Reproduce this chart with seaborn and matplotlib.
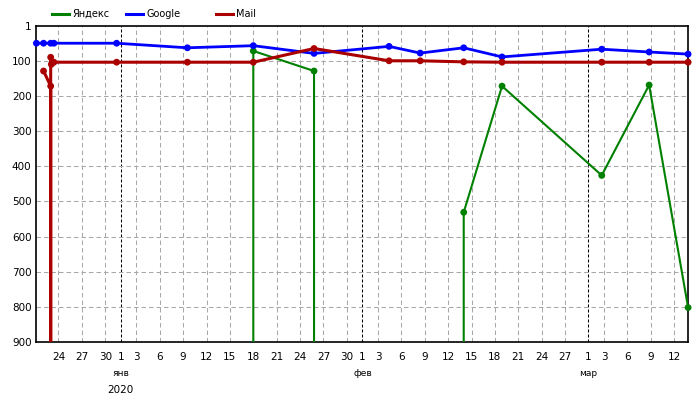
import matplotlib
matplotlib.use("Agg")
import matplotlib.pyplot as plt
import seaborn as sns
import pandas as pd

# ---------------- data ----------------
NOT_RANKED = 1000  # position outside the top-900 (drawn off the chart)

SERIES = ["Яндекс", "Google", "Mail"]
COLORS = ["#008000", "#0000ff", "#aa0000"]
WIDTHS = [1.5, 2.0, 2.2]

yandex_dates = ["2020-01-18 00:00", "2020-01-18 00:00", "2020-01-25 19:00", "2020-01-25 19:00",
                "2020-02-14 00:00", "2020-02-14 00:00", "2020-02-18 22:00", "2020-03-02 17:00",
                "2020-03-08 19:00", "2020-03-13 19:00"]
yandex_ranks = [NOT_RANKED, 72, 129, NOT_RANKED, NOT_RANKED, 531, 172, 426, 169, 802]

google_dates = ["2019-12-21 04:00", "2019-12-22 02:00", "2019-12-23 00:00", "2019-12-23 10:00",
                "2019-12-31 11:00", "2020-01-09 13:00", "2020-01-18 00:00", "2020-01-25 19:00",
                "2020-02-04 10:00", "2020-02-08 10:00", "2020-02-14 00:00", "2020-02-18 22:00",
                "2020-03-02 17:00", "2020-03-08 19:00", "2020-03-13 19:00"]
google_ranks = [50, 50, 50, 50, 50, 63, 57, 79, 59, 78, 63, 89, 67, 75, 81]

mail_dates = ["2019-12-22 02:00", "2019-12-23 00:00", "2019-12-23 00:00", "2019-12-23 00:00",
              "2019-12-23 02:00", "2019-12-23 10:00", "2019-12-31 11:00", "2020-01-09 13:00",
              "2020-01-18 00:00", "2020-01-25 19:00", "2020-02-04 10:00", "2020-02-08 10:00",
              "2020-02-14 00:00", "2020-02-18 22:00", "2020-03-02 17:00", "2020-03-08 19:00",
              "2020-03-13 19:00"]
mail_ranks = [129, 172, NOT_RANKED, 90, 110, 104, 104, 104, 104, 65, 100, 100, 103, 104, 104, 104, 104]

Y_TICKS = [1, 100, 200, 300, 400, 500, 600, 700, 800, 900]
TICK_DAYS = [1, 3, 6, 9, 12, 15, 18, 21, 24, 27, 30]
MONTH_LABELS = {"2020-01-01": "янв", "2020-02-01": "фев", "2020-03-01": "мар"}
YEAR_LABELS = {"2020-01-01": "2020"}
X_START, X_END = "2019-12-21 04:00", "2020-03-13 19:00"

# ---------------- frame ----------------
frames = []
for name, d, r in [("Яндекс", yandex_dates, yandex_ranks),
                   ("Google", google_dates, google_ranks),
                   ("Mail", mail_dates, mail_ranks)]:
    frames.append(pd.DataFrame({"date": pd.to_datetime(d), "rank": r, "engine": name}))
df = pd.concat(frames, ignore_index=True)
palette = dict(zip(SERIES, COLORS))
sizes = dict(zip(SERIES, WIDTHS))

fig = plt.figure(figsize=(7, 4), dpi=100)
ax = fig.add_axes([0.052, 0.145, 0.931, 0.79])

x0, x1 = pd.Timestamp(X_START), pd.Timestamp(X_END)

# ticks
ticks = [t for t in pd.date_range("2019-12-01", "2020-03-31", freq="D")
         if t.day in TICK_DAYS and x0 <= t <= x1]

GRID_KW = dict(color="#a8a8a8", lw=0.75, ls=(0, (4.3, 2.9)), zorder=1)
for t in ticks:
    if t.day == 1:
        ax.axvline(t, color="black", lw=0.75, ls=(0, (2.9, 1.9)), zorder=1)
    else:
        ax.axvline(t, **GRID_KW)
for yv in Y_TICKS[1:-1]:
    ax.axhline(yv, **GRID_KW)

sns.lineplot(data=df, x="date", y="rank", hue="engine", hue_order=SERIES,
             palette=palette, size="engine", sizes=sizes, size_order=SERIES,
             sort=False, estimator=None, legend=False, ax=ax, zorder=3)
sns.scatterplot(data=df[df["rank"] <= 900], x="date", y="rank", hue="engine",
                hue_order=SERIES, palette=palette, s=24, linewidth=0,
                legend=False, ax=ax, clip_on=False, zorder=4)

ax.set_xlim(x0, x1)
ax.set_ylim(900, 1)
ax.set_yticks(Y_TICKS)
ax.set_xticks(ticks)
ax.set_xticklabels([str(t.day) for t in ticks])
ax.set_xlabel("")
ax.set_ylabel("")
ax.tick_params(axis="x", length=0, pad=7.5, labelsize=7.5)
ax.tick_params(axis="y", length=0, pad=3.5, labelsize=7.5)
for s in ax.spines.values():
    s.set_color("black")
    s.set_linewidth(1.2)

for d, lab in MONTH_LABELS.items():
    ax.annotate(lab, xy=(pd.Timestamp(d), 0), xycoords=("data", "axes fraction"),
                xytext=(0, -32), textcoords="offset pixels", ha="center", va="center",
                fontsize=6.5)
for d, lab in YEAR_LABELS.items():
    ax.annotate(lab, xy=(pd.Timestamp(d), 0), xycoords=("data", "axes fraction"),
                xytext=(0, -48), textcoords="offset pixels", ha="center", va="center",
                fontsize=7.5)

# legend: one entry per series, placed like the reference
LEGEND_X = [0.0743, 0.18, 0.3086]
for name, color, lx in zip(SERIES, COLORS, LEGEND_X):
    h = plt.Line2D([], [], color=color, lw=2.2)
    fig.legend([h], [name], loc="center left", bbox_to_anchor=(lx, 0.965),
               frameon=False, fontsize=7, handlelength=1.7, handletextpad=0.4,
               borderpad=0, borderaxespad=0)

fig.savefig("out.png", dpi=100)
